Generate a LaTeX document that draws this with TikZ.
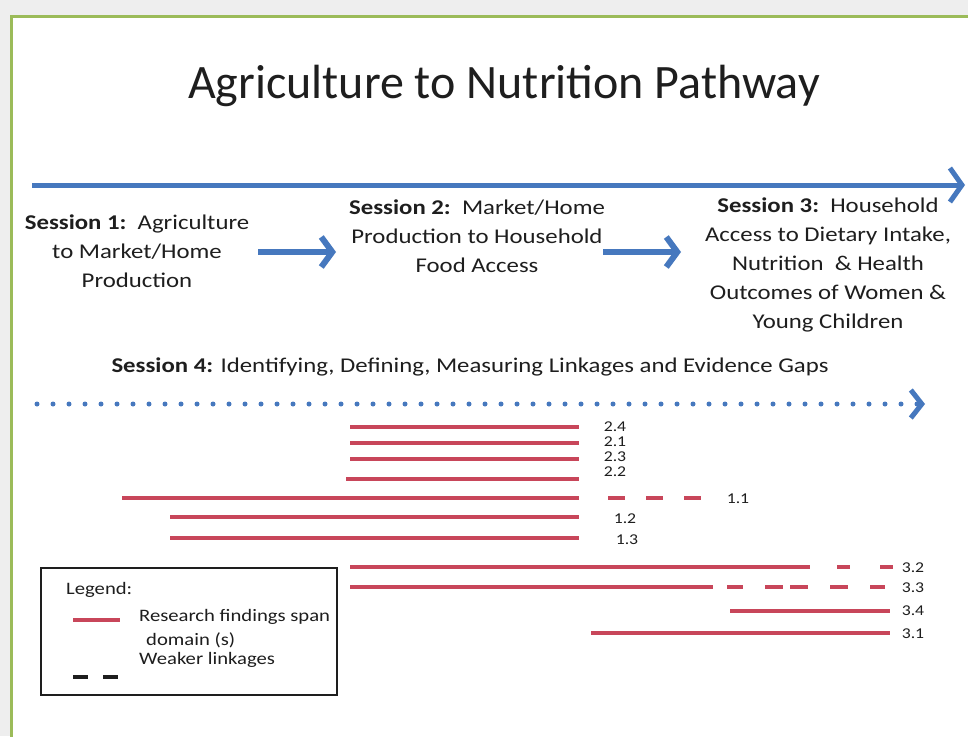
\documentclass[tikz,border=0pt]{standalone}
\usepackage{fontspec}
\setmainfont{Carlito}
\newfontfamily\wfont[FakeStretch=1.18]{Carlito}
\usetikzlibrary{arrows.meta}
\definecolor{frameg}{RGB}{155,187,89}
\definecolor{arrblue}{RGB}{70,120,190}
\definecolor{linered}{RGB}{200,70,90}
\definecolor{txt}{RGB}{30,30,30}
\definecolor{bggrey}{RGB}{238,238,238}
\tikzset{
  bodytext/.style={text=txt, font=\wfont\fontsize{21}{29}\selectfont, align=center, inner sep=0pt},
  sarrow/.style={arrblue, line width=6pt, -{Straight Barb[length=11pt,width=30pt]}},
  bigarrow/.style={arrblue, line width=5pt, -{Straight Barb[length=12pt,width=34pt]}},
  dotarrow/.style={arrblue, line width=5pt, line cap=round, dash pattern=on 0pt off 16pt, -{Straight Barb[length=11pt,width=28pt]}},
  rline/.style={linered, line width=4.5pt},
  lbl/.style={text=txt, font=\wfont\fontsize{15}{15}\selectfont, inner sep=0pt},
  legtext/.style={text=txt, font=\wfont\fontsize{17.5}{20}\selectfont, inner sep=0pt, anchor=west}
}
\begin{document}
\begin{tikzpicture}[x=1pt,y=-1pt]
\useasboundingbox (0,0) rectangle (968,736);
\fill[bggrey] (0,0) rectangle (968,736);
\fill[white] (11,16) rectangle (975,745);
\draw[frameg, line width=3pt] (11,745) -- (11,16) -- (975,16);

\node[text=txt, font=\fontsize{48}{56}\selectfont, inner sep=0pt] (title) at (504,86) {Agriculture to Nutrition Pathway};

\coordinate (tl) at (32,185);
\coordinate (tr) at (965,185);
\draw[bigarrow] (tl) -- (tr);

\node[bodytext] (s1) at (137,251) {\textbf{Session 1:}\ \ Agriculture\\to Market/Home\\Production};
\node[bodytext] (s2) at (477,236) {\textbf{Session 2:}\ \ Market/Home\\Production to Household\\Food Access};
\node[bodytext] (s3) at (828,265) {\textbf{Session 3:}\ \ Household\\Access to Dietary Intake,\\Nutrition\ \ \& Health\\Outcomes of Women \&\\Young Children};
\node[bodytext] (s4) at (470,367) {\textbf{Session 4:} Identifying, Defining, Measuring Linkages and Evidence Gaps};

\coordinate (a1s) at (258,252);
\coordinate (a1e) at (336,252);
\coordinate (a2s) at (603,252);
\coordinate (a2e) at (681,252);
\draw[sarrow] (a1s) -- (a1e);
\draw[sarrow] (a2s) -- (a2e);

\coordinate (dl) at (37,404);
\coordinate (dr) at (925,404);
\draw[dotarrow] (dl) -- (dr);

% red lines
\node[lbl] (l24) at (615,427) {2.4};
\node[lbl] (l21) at (615,442) {2.1};
\node[lbl] (l23) at (615,457) {2.3};
\node[lbl] (l22) at (615,472) {2.2};
\draw[rline] (350,427) -- (579,427);
\draw[rline] (350,443) -- (579,443);
\draw[rline] (350,459) -- (579,459);
\draw[rline] (346,479) -- (579,479);

\node[lbl] (l11) at (738,499) {1.1};
\draw[rline] (122,498) -- (579,498);
\draw[rline, dash pattern=on 17pt off 21pt] (608,498) -- (701,498);

\node[lbl] (l12) at (625,519) {1.2};
\draw[rline] (170,517) -- (579,517);
\node[lbl] (l13) at (627,540) {1.3};
\draw[rline] (170,538) -- (579,538);

\node[lbl] (l32) at (913,568) {3.2};
\draw[rline] (350,567) -- (810,567);
\draw[rline] (837,567) -- (850,567) (880,567) -- (893,567);

\node[lbl] (l33) at (913,588) {3.3};
\draw[rline] (350,587) -- (713,587);
\draw[rline] (727,587) -- (743,587) (765,587) -- (783,587) (790,587) -- (808,587) (830,587) -- (848,587) (870,587) -- (885,587);

\node[lbl] (l34) at (913,611) {3.4};
\draw[rline] (730,611) -- (890,611);
\node[lbl] (l31) at (913,634) {3.1};
\draw[rline] (591,633) -- (890,633);

% legend
\node[draw=txt, line width=2pt, minimum width=296pt, minimum height=127pt, inner sep=0pt] (legend) at (189,631) {};
\node[legtext] (legt) at (66,590) {Legend:};
\draw[rline, line width=4pt] (73,620) -- (120,620);
\node[legtext] (leg1) at (139,617) {Research findings span};
\node[legtext] (leg2) at (146,640) {domain (s)};
\node[legtext] (leg3) at (139,660) {Weaker linkages};
\draw[txt, line width=4pt] (73,677) -- (88,677) (103,677) -- (118,677);
\end{tikzpicture}
\end{document}
